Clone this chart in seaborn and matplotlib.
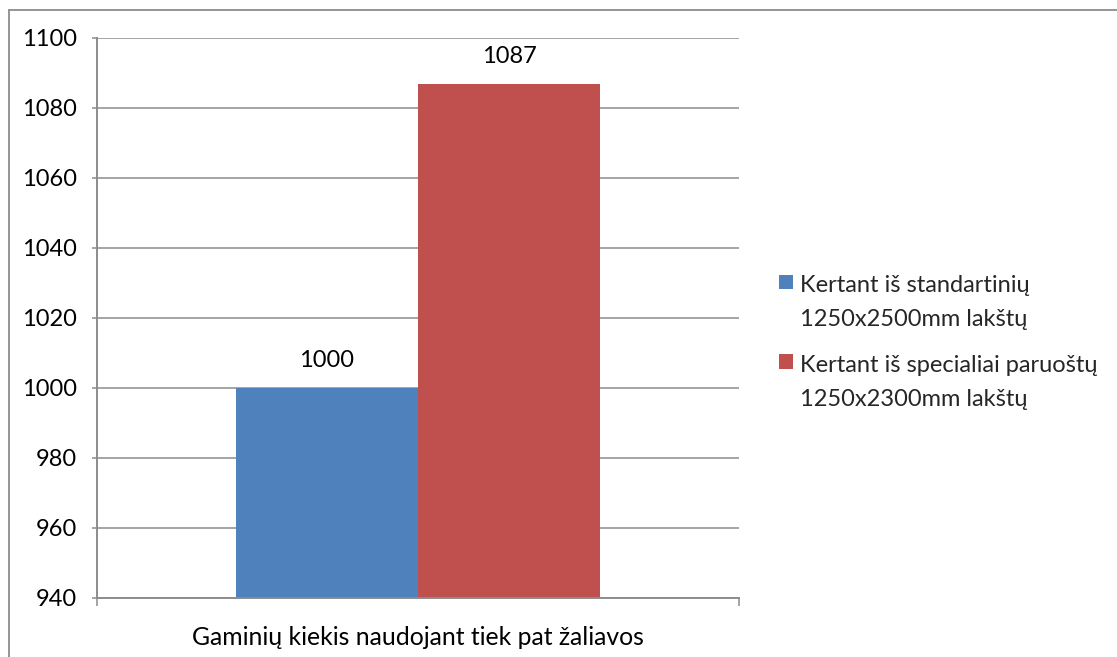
import matplotlib
matplotlib.use("Agg")
import matplotlib.pyplot as plt
from matplotlib.patches import Rectangle
from matplotlib.lines import Line2D
from matplotlib.legend_handler import HandlerPatch
import seaborn as sns
import pandas as pd

# Chart data
categories = ["Gaminių kiekis naudojant tiek pat žaliavos"]
series_names = [
    "Kertant iš standartinių\n1250x2500mm lakštų",
    "Kertant iš specialiai paruoštų\n1250x2300mm lakštų",
]
values = [1000, 1087]
colors = ["#4F81BD", "#C0504D"]
y_ticks = [940, 960, 980, 1000, 1020, 1040, 1060, 1080, 1100]

df = pd.DataFrame({
    "category": [categories[0]] * len(series_names),
    "series": series_names,
    "value": values,
})

sns.set_theme(style="white")
plt.rcParams["font.family"] = ["Lato", "DejaVu Sans"]
FS = 17
GRID = "#8c8c8c"

W, H = 1117, 657
fig = plt.figure(figsize=(W / 100, H / 100), dpi=100)
ax = fig.add_axes([97 / W, 1 - 598 / H, (739 - 97) / W, (598 - 38) / H])

sns.barplot(data=df, x="category", y="value", hue="series",
            palette=colors, width=0.567, saturation=1, ax=ax,
            legend=False, errorbar=None, linewidth=0)

ax.set_ylim(y_ticks[0], y_ticks[-1])
ax.set_xlim(-0.5, 0.5)
ax.set_yticks(y_ticks)
ax.yaxis.grid(True, color=GRID, linewidth=1.1)
ax.set_axisbelow(True)
ax.set_xlabel("")
ax.set_ylabel("")

for s in ["top", "right"]:
    ax.spines[s].set_visible(False)
for s in ["left", "bottom"]:
    ax.spines[s].set_color(GRID)
    ax.spines[s].set_linewidth(1.4)

ax.tick_params(axis="y", which="major", length=3.5, width=1.1, color=GRID,
               pad=11, labelsize=FS, labelcolor="black", left=True)
ax.set_xticks([-0.5, 0.5], minor=True)
ax.tick_params(axis="x", which="minor", length=5.5, width=1.1, color=GRID,
               bottom=True)
ax.tick_params(axis="x", which="major", length=0, pad=20, labelsize=17.8,
               labelcolor="black")

for cont in ax.containers:
    ax.bar_label(cont, fmt="%d", padding=12, fontsize=FS, color="black")


class TopAlignedSquare(HandlerPatch):
    def __init__(self, shift, **kw):
        super().__init__(**kw)
        self.shift = shift

    def create_artists(self, legend, orig_handle, xdescent, ydescent,
                       width, height, fontsize, trans):
        side = min(width, height)
        p = Rectangle((-xdescent, -ydescent + self.shift * fontsize), side, side,
                      facecolor=orig_handle.get_facecolor(), edgecolor="none",
                      transform=trans)
        return [p]


handles = [Rectangle((0, 0), 1, 1, facecolor=c) for c in colors]
leg = fig.legend(handles, series_names, loc="upper left",
                 bbox_to_anchor=(758 / W, 1 - 254 / H), frameon=False,
                 fontsize=FS, handlelength=0.6, handleheight=0.6,
                 handletextpad=0.3, labelspacing=1.05,
                 handler_map={Rectangle: TopAlignedSquare(0.9)})
for t in leg.get_texts():
    t.set_linespacing(1.75)

# Outer chart frame
fig.add_artist(Line2D([9.5 / W, 1], [1 - 9.5 / H, 1 - 9.5 / H],
                      transform=fig.transFigure, color=GRID, lw=1.3))
fig.add_artist(Line2D([9.5 / W, 9.5 / W], [0, 1 - 9.5 / H],
                      transform=fig.transFigure, color=GRID, lw=1.3))

fig.savefig("out.png", dpi=100)
